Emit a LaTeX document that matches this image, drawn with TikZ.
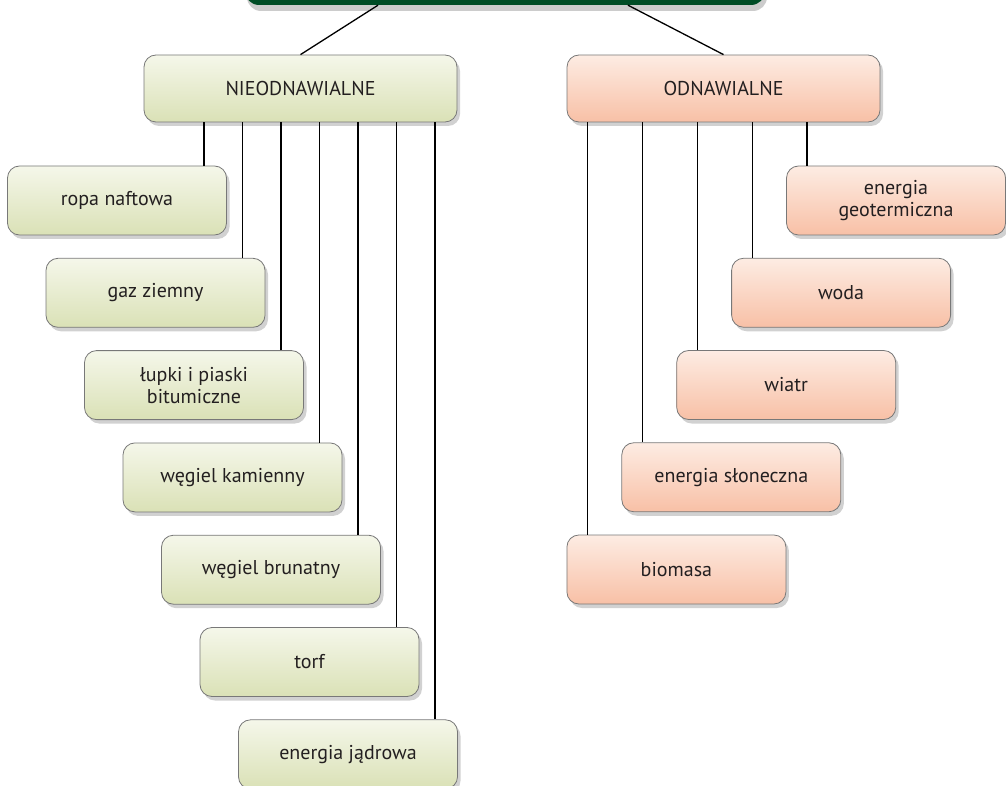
\documentclass[tikz,border=0pt]{standalone}
\usepackage{fontspec}
\setmainfont{PT Sans}
\usepackage{tikz}
\usetikzlibrary{shadows,positioning,calc}
\definecolor{topgreen}{RGB}{0,77,38}
\definecolor{nieLight}{RGB}{245,247,234}
\definecolor{nieDark}{RGB}{218,225,182}
\definecolor{odnLight}{RGB}{253,236,227}
\definecolor{odnDark}{RGB}{248,192,166}
\definecolor{boxline}{RGB}{120,120,120}
\definecolor{txt}{RGB}{35,31,32}
\tikzset{
  src/.style={rectangle, rounded corners=12pt, draw=boxline, line width=0.8pt,
    minimum width=219pt, minimum height=69pt, text=txt, align=center,
    font=\fontsize{20}{22}\selectfont,
    drop shadow={shadow xshift=3pt, shadow yshift=-4pt, opacity=0.18, fill=black}},
  nie/.style={src, top color=nieLight, bottom color=nieDark},
  odn/.style={src, top color=odnLight, bottom color=odnDark},
  link/.style={line width=1.3pt, black}
}
\begin{document}
\begin{tikzpicture}[x=1pt, y=-1pt]
        \def\lx{38.5}
        \def\ly{92.3}
        \def\rx{-54.9}
        \def\ry{92.25}
        \useasboundingbox (0,0) rectangle (1006,786);
        \clip (0,0) rectangle (1006,786);
        %Top box
        \node[rectangle, rounded corners=14pt, fill=topgreen, minimum width=520pt, minimum height=70pt,
          drop shadow={shadow xshift=2pt, shadow yshift=-6pt, opacity=0.2, fill=black}] (top) at (505,-30) {};
        %Groups
        \node[nie, minimum width=313pt, minimum height=67pt] (nieodn) at (300.5,88.5) {NIEODNAWIALNE};
        \node[odn, minimum width=313pt, minimum height=67pt] (odn) at (723.5,88.5) {ODNAWIALNE};
        %Non-renewable
        \node[nie] (ropa) at (117,200.5) {ropa naftowa};
        \node[nie] (gaz) at (117+\lx,200.5+\ly) {gaz ziemny};
        \node[nie] (lupki) at (117+2*\lx,200.5+2*\ly) {łupki i piaski\\bitumiczne};
        \node[nie] (kamienny) at (117+3*\lx,200.5+3*\ly) {węgiel kamienny};
        \node[nie] (brunatny) at (117+4*\lx,200.5+4*\ly) {węgiel brunatny};
        \node[nie] (torf) at (117+5*\lx,200.5+5*\ly) {torf};
        \node[nie] (jadrowa) at (117+6*\lx,200.5+6*\ly) {energia jądrowa};
        %Renewable
        \node[odn] (geoterm) at (896,200.5) {energia\\geotermiczna};
        \node[odn] (woda) at (896+\rx,200.5+\ry) {woda};
        \node[odn] (wiatr) at (896+2*\rx,200.5+2*\ry) {wiatr};
        \node[odn] (sloneczna) at (896+3*\rx,200.5+3*\ry) {energia słoneczna};
        \node[odn] (biomasa) at (896+4*\rx,200.5+4*\ry) {biomasa};
        %Draw lines
        \draw[link] ([xshift=-127pt]top.south) -- (nieodn.north);
        \draw[link] ([xshift=123pt]top.south) -- (odn.north);
        \foreach \n in {ropa,gaz,lupki,kamienny,brunatny,torf,jadrowa}
          \draw[link] ([xshift=-23pt]\n.north east) -- ([xshift=-23pt]\n.north east |- nieodn.south);
        \foreach \n in {geoterm,woda,wiatr,sloneczna,biomasa}
          \draw[link] ([xshift=21pt]\n.north west) -- ([xshift=21pt]\n.north west |- odn.south);
\end{tikzpicture}
\end{document}
